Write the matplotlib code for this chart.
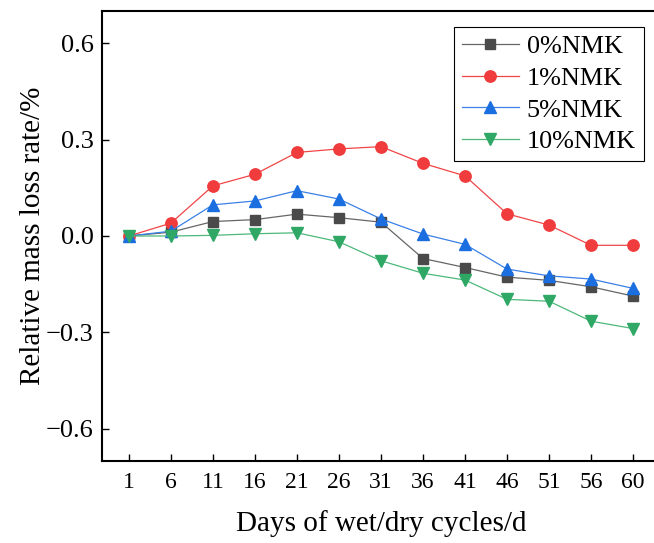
import matplotlib
matplotlib.use("Agg")
import matplotlib.pyplot as plt

# Data
days = ["1", "6", "11", "16", "21", "26", "31", "36", "41", "46", "51", "56", "60"]
nmk0 = [0.0, 0.012, 0.045, 0.051, 0.068, 0.057, 0.043, -0.070, -0.098, -0.128, -0.138, -0.158, -0.187]
nmk1 = [0.0, 0.040, 0.156, 0.192, 0.260, 0.271, 0.278, 0.226, 0.187, 0.069, 0.034, -0.029, -0.029]
nmk5 = [0.0, 0.015, 0.097, 0.109, 0.141, 0.115, 0.053, 0.006, -0.026, -0.103, -0.124, -0.134, -0.163]
nmk10 = [0.0, 0.0, 0.002, 0.007, 0.010, -0.018, -0.077, -0.116, -0.137, -0.197, -0.203, -0.265, -0.288]
labels = ["0%NMK", "1%NMK", "5%NMK", "10%NMK"]

plt.rcParams["font.family"] = ["Liberation Serif", "DejaVu Serif"]

fig = plt.figure(figsize=(6.54, 5.43), dpi=100)
ax = fig.add_axes([102 / 654, 82 / 543, 558 / 654, 450 / 543])

x = list(range(len(days)))
styles = [
    (nmk0, "s", "#666666", "#4a4a4a", 7.5),
    (nmk1, "o", "#f04545", "#f03c3c", 8.2),
    (nmk5, "^", "#3a80e6", "#1a6ee0", 8.5),
    (nmk10, "v", "#4cb87a", "#2fa865", 8.5),
]
for (vals, mk, lc, mc, ms), lab in zip(styles, labels):
    ax.plot(x, vals, color=lc, lw=0.9, marker=mk, markersize=ms,
            markerfacecolor=mc, markeredgecolor=mc, label=lab)

ax.set_xlim(-0.64, 12.64)
ax.set_ylim(-0.7, 0.7)
ax.set_xticks(x)
ax.set_xticklabels(days)
ax.set_yticks([-0.6, -0.3, 0.0, 0.3, 0.6])
ax.set_yticklabels(["\u22120.6", "\u22120.3", "0.0", "0.3", "0.6"])
ax.tick_params(direction="in", length=5, width=1)
ax.tick_params(axis="x", labelsize=17, pad=8)
ax.tick_params(axis="y", labelsize=19, pad=6)
for s in ax.spines.values():
    s.set_linewidth(1.5)

ax.set_xlabel("Days of wet/dry cycles/d", fontsize=21, labelpad=12)
ax.set_ylabel("Relative mass loss rate/%", fontsize=21, labelpad=0)

leg = ax.legend(loc="upper right", bbox_to_anchor=(0.971, 0.964), borderaxespad=0,
                fontsize=18.8, fancybox=False, edgecolor="black", framealpha=1,
                handlelength=2.2, handletextpad=0.3, borderpad=0.3,
                labelspacing=0.32)
leg.get_frame().set_linewidth(0.8)

fig.savefig("out.png", dpi=100)
